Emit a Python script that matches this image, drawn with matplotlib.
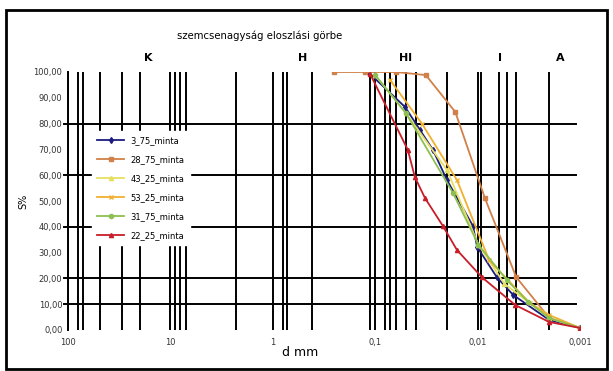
import matplotlib.pyplot as plt
import matplotlib.patches as mpatches
import numpy as np

# szemcseeloszlás adatok (d mm, áthullott %)
d_1_75 = [0.1175, 0.051, 0.0365, 0.0273, 0.0199, 0.0111, 0.0101, 0.0065, 0.0045, 0.002, 0.001]
p_1_75 = [100.0, 86.4, 77.5, 69.8, 58.1, 40.3, 32.2, 20.5, 13.6, 3.9, 0.8]

d_28_75 = [0.25, 0.125, 0.063, 0.032, 0.0165, 0.0085, 0.0042, 0.002, 0.001]
p_28_75 = [100.0, 100.0, 100.0, 98.8, 84.5, 51.2, 20.5, 4.7, 0.8]

d_43_25 = [0.1, 0.05, 0.0199, 0.0098, 0.0055, 0.002, 0.001]
p_43_25 = [98.8, 84.0, 62.0, 33.0, 18.0, 4.6, 0.8]

d_53_25 = [0.0716, 0.035, 0.0159, 0.0077, 0.0031, 0.002, 0.001]
p_53_25 = [96.9, 80.0, 58.1, 27.0, 10.5, 5.8, 0.8]

d_31_75 = [0.1, 0.05, 0.0174, 0.0098, 0.0052, 0.0032, 0.002, 0.001]
p_31_75 = [98.8, 84.0, 53.1, 33.0, 19.4, 10.9, 4.6, 0.8]

d_22_25 = [0.112, 0.048, 0.041, 0.0327, 0.0218, 0.0159, 0.0091, 0.0043, 0.002, 0.001]
p_22_25 = [99.2, 69.8, 59.3, 51.2, 40.3, 31.0, 20.5, 9.7, 3.1, 0.8]

series = [
    ('3_75_minta', d_1_75, p_1_75, '#1c1c80', 'd'),
    ('28_75_minta', d_28_75, p_28_75, '#d08048', 's'),
    ('43_25_minta', d_43_25, p_43_25, '#e6e060', '^'),
    ('53_25_minta', d_53_25, p_53_25, '#f0b030', 'x'),
    ('31_75_minta', d_31_75, p_31_75, '#8cc050', 'o'),
    ('22_25_minta', d_22_25, p_22_25, '#c81e2a', '^'),
]

# függőleges vonalak (szitaméretek)
sieve_lines = [100, 80, 71, 49, 30, 20, 10, 9, 8, 7.1, 2.3, 1, 0.8, 0.72, 0.41,
               0.112, 0.1, 0.08, 0.071, 0.063, 0.05, 0.04, 0.02, 0.01, 0.0093,
               0.0062, 0.0052, 0.0042, 0.002]
h_lines = [10, 20, 40, 60, 80]

x_ticks = [100, 10, 1, 0.1, 0.01, 0.001]
x_ticklabels = ['100', '10', '1', '0,1', '0,01', '0,001']
y_ticks = [0, 10, 20, 30, 40, 50, 60, 70, 80, 90, 100]

zones = [('K', 148), ('H', 303), ('Hl', 405), ('I', 500), ('A', 560)]

fig = plt.figure(figsize=(6.13, 3.71), dpi=100)
ax = fig.add_axes([68 / 613, 1 - 330 / 371, 512 / 613, 258 / 371])

ax.set_xscale('log')
ax.set_xlim(100, 0.001)
ax.set_ylim(0, 100)

for d in sieve_lines:
    ax.axvline(d, color='black', lw=1.4, zorder=1)
for y in h_lines:
    ax.plot([-0.008, 0.992], [y, y], color='black', lw=1.4,
            transform=ax.get_yaxis_transform(), clip_on=False, zorder=1)

for name, d, p, col, mk in series:
    ax.plot(d, p, color=col, lw=1.3, marker=mk, ms=3, label=name, zorder=3)

ax.set_xticks(x_ticks)
ax.set_xticklabels(x_ticklabels)
ax.xaxis.set_minor_locator(plt.NullLocator())
ax.set_yticks(y_ticks)
ax.yaxis.set_major_formatter(plt.FuncFormatter(lambda v, pos: ('%.2f' % v).replace('.', ',')))
ax.tick_params(axis='both', length=0, labelsize=6, colors='#333333', pad=4)
ax.tick_params(axis='x', pad=6)

for s in ['top', 'right', 'bottom']:
    ax.spines[s].set_visible(False)
ax.spines['left'].set_linewidth(1.4)

ax.set_ylabel('S%', fontsize=7, labelpad=4)

leg = ax.legend(loc='upper left', bbox_to_anchor=(20 / 512, 1 - 55 / 258), fontsize=6,
                frameon=True, fancybox=False, edgecolor='white', framealpha=1,
                handlelength=3.2, labelspacing=1.2, borderpad=0.6)

fig.text(260 / 613, 1 - 36 / 371, 'szemcsenagyság eloszlási görbe', fontsize=7.3,
         ha='center', va='center')
for lab, px in zones:
    fig.text(px / 613, 1 - 58 / 371, lab, fontsize=8, fontweight='bold',
             ha='center', va='center')
fig.text(300 / 613, 1 - 353 / 371, 'd mm', fontsize=9, ha='center', va='center')

fig.patches.append(mpatches.Rectangle((6 / 613, 2 / 371), 601 / 613, 359 / 371,
                                      transform=fig.transFigure, fill=False,
                                      edgecolor='black', lw=2))

plt.savefig('out.png', dpi=100)
